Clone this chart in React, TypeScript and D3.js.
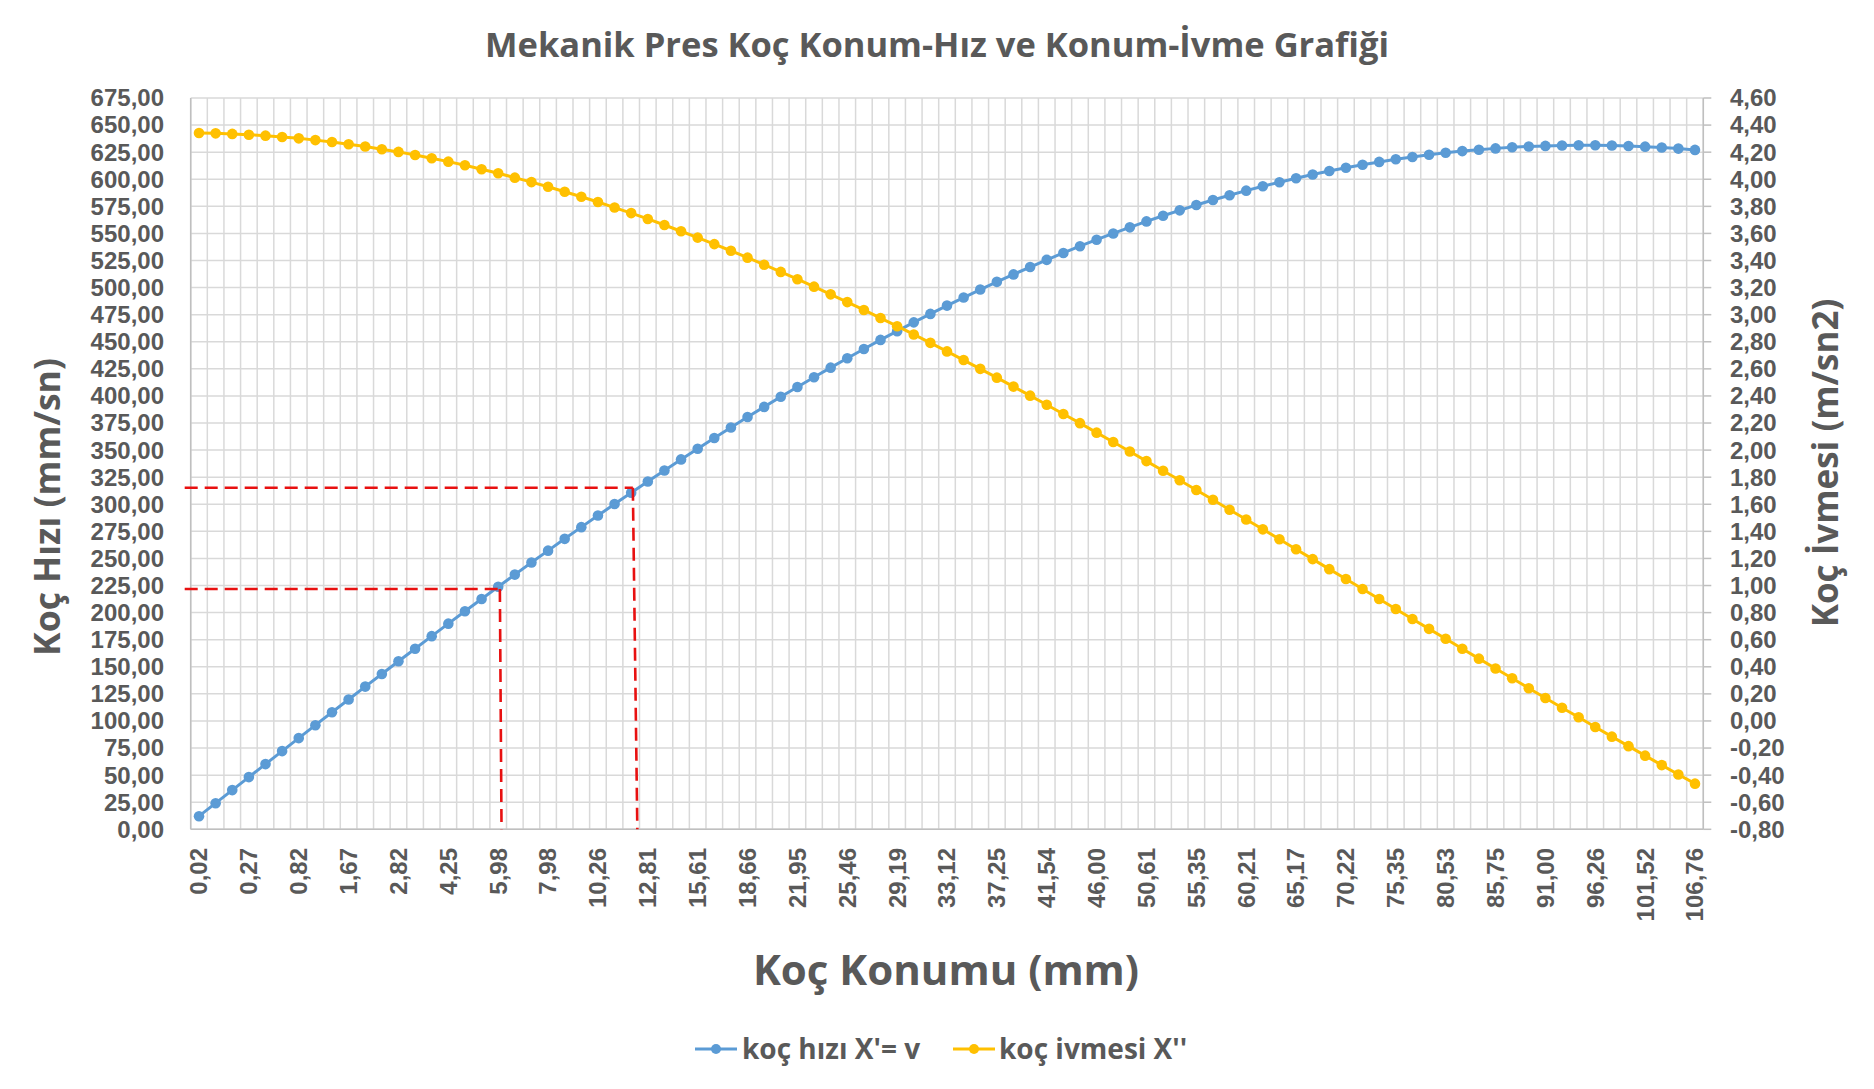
import React from 'react'
import * as d3 from 'd3'

// koç hızı X' = v  (mm/sn) – sol eksen, grafikten okunan 91 nokta
const hiz = [
  12.1, 24.1, 36.2, 48.2, 60.2, 72.2, 84.2, 96.1, 108.0, 119.8,
  131.7, 143.4, 155.1, 166.7, 178.3, 189.8, 201.3, 212.6, 223.9, 235.1,
  246.2, 257.2, 268.1, 278.9, 289.6, 300.2, 310.7, 321.0, 331.2, 341.4,
  351.3, 361.2, 370.9, 380.5, 389.9, 399.2, 408.3, 417.3, 426.1, 434.8,
  443.3, 451.7, 459.8, 467.9, 475.7, 483.4, 490.8, 498.2, 505.3, 512.2,
  519.0, 525.6, 532.0, 538.2, 544.2, 550.0, 555.6, 561.1, 566.3, 571.3,
  576.2, 580.8, 585.2, 589.5, 593.5, 597.3, 600.9, 604.4, 607.6, 610.6,
  613.4, 616.0, 618.4, 620.6, 622.6, 624.4, 626.0, 627.3, 628.5, 629.5,
  630.3, 630.8, 631.2, 631.4, 631.4, 631.1, 630.7, 630.1, 629.3, 628.3,
  627.1
]

// koç ivmesi X'' (m/sn2) – sağ eksen
const ivme = [
  4.342, 4.339, 4.335, 4.329, 4.322, 4.312, 4.302, 4.289, 4.275, 4.259,
  4.242, 4.222, 4.202, 4.179, 4.155, 4.130, 4.103, 4.074, 4.044, 4.012,
  3.979, 3.945, 3.908, 3.871, 3.832, 3.791, 3.750, 3.707, 3.662, 3.616,
  3.569, 3.521, 3.472, 3.421, 3.369, 3.316, 3.262, 3.207, 3.150, 3.093,
  3.035, 2.975, 2.915, 2.854, 2.792, 2.729, 2.665, 2.600, 2.535, 2.469,
  2.402, 2.335, 2.267, 2.199, 2.129, 2.060, 1.990, 1.919, 1.848, 1.777,
  1.705, 1.633, 1.560, 1.488, 1.415, 1.342, 1.268, 1.195, 1.121, 1.048,
  0.974, 0.901, 0.827, 0.753, 0.680, 0.607, 0.533, 0.460, 0.387, 0.315,
  0.242, 0.170, 0.098, 0.027, -0.045, -0.116, -0.186, -0.256, -0.326, -0.395,
  -0.463
]

// x ekseni: her 3. kategoride yazılan konum değerleri (mm)
const konumEtiketleri = [
  '0,02', '0,27', '0,82', '1,67', '2,82', '4,25', '5,98', '7,98', '10,26', '12,81',
  '15,61', '18,66', '21,95', '25,46', '29,19', '33,12', '37,25', '41,54', '46,00', '50,61',
  '55,35', '60,21', '65,17', '70,22', '75,35', '80,53', '85,75', '91,00', '96,26', '101,52',
  '106,76'
]
const etiketAdimi = 3

const kategoriler = d3.range(hiz.length)
const hizTicks = d3.range(0, 28).map(i => i * 25)
const ivmeTicks = d3.range(0, 28).map(i => -0.8 + i * 0.2)

// kırmızı kesikli işaret çizgileri: hız değeri, kategori konumu (üst / alt uç)
const isaretHiz = [315.3, 221.8]
const isaretUst = [26.1, 18.1]
const isaretAlt = [26.37, 18.2]

const MAVI = '#5B9BD5'
const SARI = '#FFC000'
const YAZI = '#595959'
const FONT = "'Open Sans', sans-serif"
const TICK_FONT = "'Liberation Sans', Arial, sans-serif"

export default function App() {
  const W = 1874, H = 1089
  const left = 190.7, right = 1703.3, top = 98, bottom = 829.3

  const x = d3.scaleBand<number>().domain(kategoriler).range([left, right]).padding(0)
  const bw = x.bandwidth()
  const xc = (i: number) => (x(i) as number) + bw / 2
  const xf = d3.scaleLinear().domain([0, kategoriler.length - 1]).range([left + bw / 2, right - bw / 2])
  const yL = d3.scaleLinear().domain([0, 675]).range([bottom, top])
  const yR = d3.scaleLinear().domain([-0.8, 4.6]).range([bottom, top])

  const fmt = d3.formatLocale({
    decimal: ',', thousands: '.', grouping: [3], currency: ['', ''], minus: '-'
  }).format('.2f')

  const lineL = d3.line<number>().x((_, i) => xc(i)).y(d => yL(d))
  const lineR = d3.line<number>().x((_, i) => xc(i)).y(d => yR(d))

  const sinirlar = d3.range(kategoriler.length + 1).map(k => left + k * bw)

  return (
    <svg width={W} height={H} style={{ position: 'absolute', left: 0, top: 0, background: '#fff' }}
      fontFamily={FONT} fontWeight="bold">
      <rect x={0} y={0} width={W} height={H} fill="#fff" />

      {/* grid */}
      <g stroke="#d9d9d9" strokeWidth={1.5}>
        {hizTicks.map(t => (
          <line key={'h' + t} x1={left} x2={right} y1={yL(t)} y2={yL(t)} />
        ))}
        {sinirlar.map((sx, k) => (
          <line key={'v' + k} x1={sx} x2={sx} y1={top} y2={bottom} />
        ))}
      </g>

      {/* axis lines */}
      <g stroke="#bfbfbf" strokeWidth={1.5}>
        <line x1={left} x2={left} y1={top} y2={bottom} />
        <line x1={right} x2={right} y1={top} y2={bottom} />
        <line x1={left} x2={right} y1={bottom} y2={bottom} />
        {ivmeTicks.map((t, i) => (
          <line key={'rt' + i} x1={right} x2={right + 8} y1={yR(t)} y2={yR(t)} />
        ))}
      </g>

      {/* left ticks */}
      <g fill={YAZI} fontSize={24} fontFamily={TICK_FONT} textAnchor="end">
        {hizTicks.map(t => (
          <text key={'lt' + t} x={164} y={yL(t)} dy="0.35em">{fmt(t)}</text>
        ))}
      </g>

      {/* right ticks */}
      <g fill={YAZI} fontSize={24} fontFamily={TICK_FONT} textAnchor="start">
        {ivmeTicks.map((t, i) => (
          <text key={'rl' + i} x={1730} y={yR(t)} dy="0.35em">{fmt(t)}</text>
        ))}
      </g>

      {/* x tick labels */}
      <g fill={YAZI} fontSize={24} fontFamily={TICK_FONT} textAnchor="end">
        {konumEtiketleri.map((lab, j) => {
          const cx = xc(j * etiketAdimi)
          return (
            <text key={'xl' + j} transform={`translate(${cx},848) rotate(-90)`} dy="0.35em">{lab}</text>
          )
        })}
      </g>

      {/* series */}
      <path d={lineL(hiz) || ''} fill="none" stroke={MAVI} strokeWidth={3} />
      {hiz.map((v, i) => (
        <circle key={'b' + i} cx={xc(i)} cy={yL(v)} r={5.3} fill={MAVI} />
      ))}
      <path d={lineR(ivme) || ''} fill="none" stroke={SARI} strokeWidth={3} />
      {ivme.map((v, i) => (
        <circle key={'y' + i} cx={xc(i)} cy={yR(v)} r={5.3} fill={SARI} />
      ))}

      {/* red dashed markers */}
      <g stroke="#E81010" strokeWidth={2.6} strokeDasharray="13 7" fill="none">
        {isaretHiz.map((v, k) => (
          <g key={'m' + k}>
            <line x1={left - 6} x2={xf(isaretUst[k])} y1={yL(v)} y2={yL(v)} />
            <line x1={xf(isaretUst[k])} x2={xf(isaretAlt[k])} y1={yL(v)} y2={yL(0)} />
          </g>
        ))}
      </g>

      {/* titles */}
      <text x={937} y={45} dy="0.35em" textAnchor="middle" fill={YAZI} fontSize={34.5}>
        Mekanik Pres Koç Konum-Hız ve Konum-İvme Grafiği
      </text>
      <text transform="translate(48,507) rotate(-90)" dy="0.35em" textAnchor="middle" fill={YAZI} fontSize={35.5}>
        Koç Hızı (mm/sn)
      </text>
      <text transform="translate(1826,463) rotate(-90)" dy="0.35em" textAnchor="middle" fill={YAZI} fontSize={35}>
        Koç İvmesi (m/sn2)
      </text>
      <text x={946} y={970} dy="0.35em" textAnchor="middle" fill={YAZI} fontSize={42}>
        Koç Konumu (mm)
      </text>

      {/* legend */}
      <g fontSize={28} fill={YAZI}>
        <line x1={695} x2={737} y1={1049} y2={1049} stroke={MAVI} strokeWidth={3} />
        <circle cx={716} cy={1049} r={5} fill={MAVI} />
        <text x={742} y={1049} dy="0.35em">koç hızı X'= v</text>
        <line x1={953} x2={995} y1={1049} y2={1049} stroke={SARI} strokeWidth={3} />
        <circle cx={974} cy={1049} r={5} fill={SARI} />
        <text x={999} y={1049} dy="0.35em">koç ivmesi X''</text>
      </g>
    </svg>
  )
}
